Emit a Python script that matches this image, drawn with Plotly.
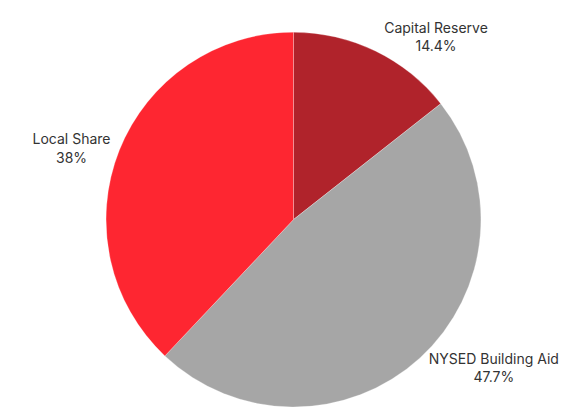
import plotly.graph_objects as go

labels = ["Capital Reserve", "NYSED Building Aid", "Local Share"]
values = [14.4, 47.7, 38]
text_labels = ["14.4%", "47.7%", "38%"]
colors = ["#b0232b", "#a6a6a6", "#fe2631"]

fig = go.Figure(go.Pie(
    labels=labels,
    values=values,
    text=text_labels,
    texttemplate="%{label}<br>%{text}",
    textposition="outside",
    sort=False,
    direction="clockwise",
    rotation=0,
    marker=dict(colors=colors, line=dict(color="rgba(255,255,255,0.5)", width=0.5)),
    textfont=dict(family="Inter", size=14, color="#333333"),
    outsidetextfont=dict(family="Inter", size=14, color="#333333"),
    showlegend=False,
    hole=0,
    domain=dict(x=[0, 1], y=[0, 0.921]),
))
fig.update_layout(
    width=587, height=407,
    margin=dict(l=0, r=0, t=0, b=0, autoexpand=False),
    paper_bgcolor="white",
    plot_bgcolor="white",
)
fig.write_html("out.html")
